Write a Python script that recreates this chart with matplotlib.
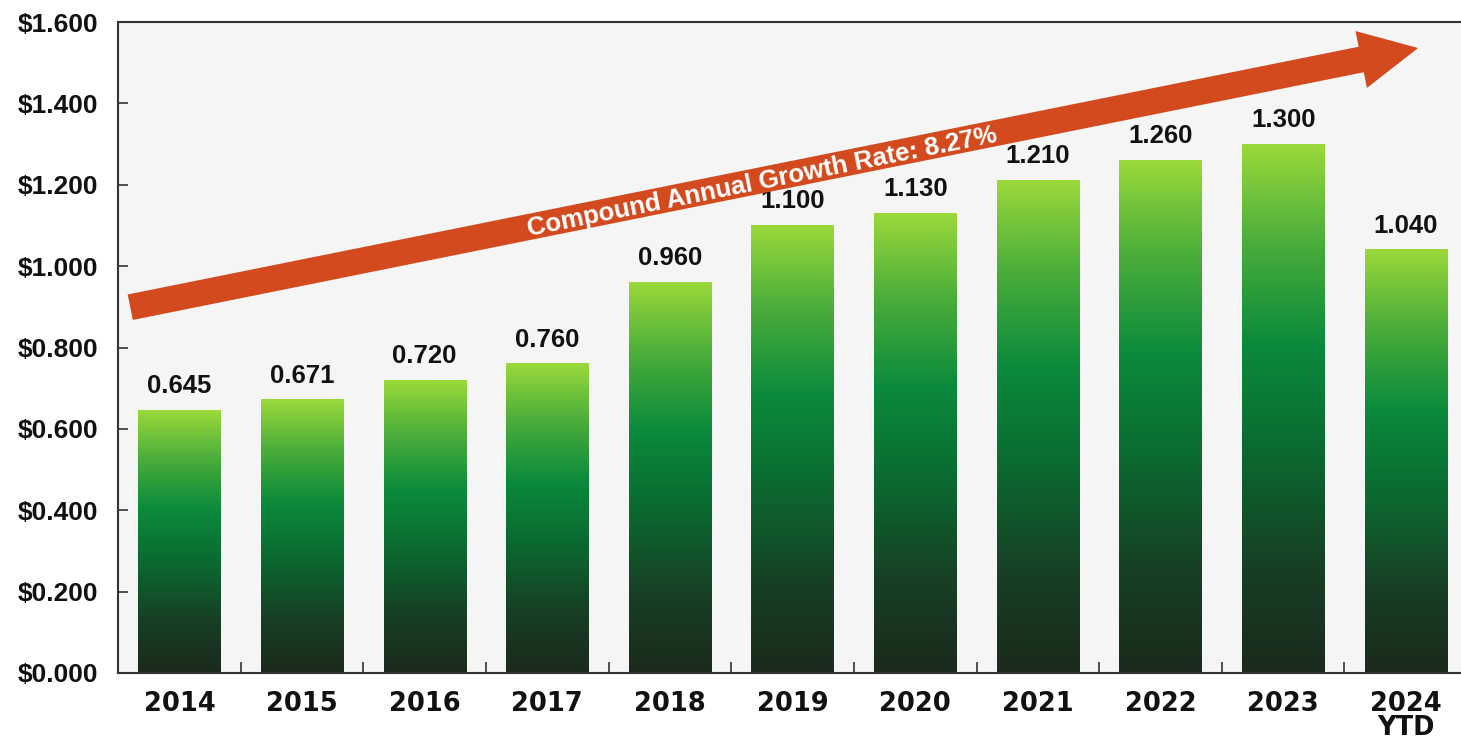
import numpy as np
import matplotlib.pyplot as plt
from matplotlib.colors import LinearSegmentedColormap
from matplotlib.patches import Polygon
from matplotlib.ticker import MultipleLocator, FuncFormatter

# Data
years = ['2014', '2015', '2016', '2017', '2018', '2019', '2020', '2021', '2022', '2023', '2024\nYTD']
values = [0.645, 0.671, 0.720, 0.760, 0.960, 1.100, 1.130, 1.210, 1.260, 1.300, 1.040]
value_labels = ['0.645', '0.671', '0.720', '0.760', '0.960', '1.100', '1.130', '1.210', '1.260', '1.300', '1.040']
cagr_text = 'Compound Annual Growth Rate: 8.27%'

# bottom -> top colours of each bar
bar_cmap = LinearSegmentedColormap.from_list('bar', [
    (0.00, '#1b2a1b'),
    (0.20, '#173f24'),
    (0.42, '#0b6a31'),
    (0.62, '#0a8a3c'),
    (0.82, '#4cae3a'),
    (1.00, '#9ad93b'),
])

fig = plt.figure(figsize=(14.61, 7.39), dpi=100)
ax = fig.add_axes([118 / 1461, 1 - 673 / 739, 1 - 118 / 1461, (673 - 22) / 739])
ax.set_facecolor('#f5f5f5')

x = np.arange(len(years))
width = 0.67
grad = np.linspace(0, 1, 256).reshape(-1, 1)
for xi, v, lab in zip(x, values, value_labels):
    ax.imshow(grad, cmap=bar_cmap, origin='lower', aspect='auto',
              extent=[xi - width / 2, xi + width / 2, 0, v], zorder=2)
    ax.text(xi, v + 0.03, lab, ha='center', va='bottom', fontsize=18.5,
            fontweight='bold', family='Liberation Sans', color='#111111', zorder=3)

ax.set_xlim(-0.5, 10.45)
ax.set_ylim(0, 1.6)

ax.yaxis.set_major_locator(MultipleLocator(0.2))
ax.yaxis.set_major_formatter(FuncFormatter(lambda v, p: f'${v:.3f}'))
ax.set_xticks(x)
ax.set_xticklabels(years)
ax.set_xticks(x[:-1] + 0.5, minor=True)

ax.tick_params(axis='y', direction='in', length=7, width=1.2, color='#333333', pad=14)
ax.tick_params(axis='x', which='major', length=0, pad=13)
ax.tick_params(axis='x', which='minor', direction='in', length=8, width=1.2, color='#333333')
for t in ax.get_yticklabels():
    t.set_family('Liberation Sans')
    t.set_fontweight('bold')
    t.set_fontsize(19)
    t.set_color('#111111')
for t in ax.get_xticklabels():
    t.set_family('DejaVu Sans')
    t.set_fontweight('bold')
    t.set_fontsize(18.5)
    t.set_color('#111111')
    t.set_linespacing(0.9)

for side in ['left', 'top', 'bottom']:
    ax.spines[side].set_color('#333333')
    ax.spines[side].set_linewidth(1.5)
ax.spines['right'].set_visible(False)

# growth arrow (tail and tip given in data units, shape built in pixels)
tail = ax.transData.transform((-0.40, 0.899))
tip = ax.transData.transform((10.10, 1.536))
d = tip - tail
L = np.hypot(*d)
u = d / L
n = np.array([-u[1], u[0]])
shaft_hw, head_hw, head_len = 13, 29, 58
base = tip - u * head_len
pts = np.array([
    tail + n * shaft_hw,
    base + n * shaft_hw,
    base + n * head_hw,
    tip,
    base - n * head_hw,
    base - n * shaft_hw,
    tail - n * shaft_hw,
])
pts_ax = ax.transAxes.inverted().transform(pts)
ax.add_patch(Polygon(pts_ax, closed=True, transform=ax.transAxes, facecolor='#d24a1e',
                     edgecolor='none', zorder=4, clip_on=False))

angle = np.degrees(np.arctan2(d[1], d[0]))
mid = tail + u * (L * 0.49) - n * 2
mid_ax = ax.transAxes.inverted().transform(mid)
ax.text(mid_ax[0], mid_ax[1], cagr_text, transform=ax.transAxes, rotation=angle,
        rotation_mode='anchor', ha='center', va='center', fontsize=18.5,
        fontweight='bold', family='Liberation Sans', color='white', zorder=5)

fig.savefig('out.png', dpi=100)
